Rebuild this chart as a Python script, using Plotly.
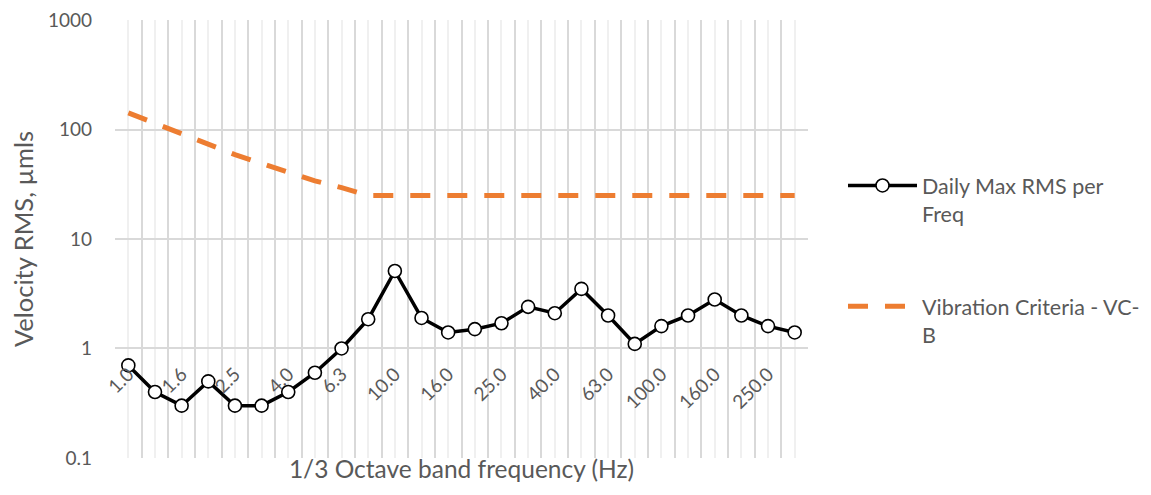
import plotly.graph_objects as go

# 1/3 octave band centre frequencies (Hz)
BANDS = [
    "1.0", "1.25", "1.6", "2.0", "2.5", "3.15", "4.0", "5.0", "6.3", "8.0",
    "10.0", "12.5", "16.0", "20.0", "25.0", "31.5", "40.0", "50.0", "63.0", "80.0",
    "100.0", "125.0", "160.0", "200.0", "250.0", "315.0",
]
# Daily max RMS velocity per band, um/s
DAILY_MAX_RMS = [
    0.7, 0.4, 0.3, 0.5, 0.3, 0.3, 0.4, 0.6, 1.0, 1.85,
    5.1, 1.9, 1.4, 1.5, 1.7, 2.4, 2.1, 3.5, 2.0, 1.1,
    1.6, 2.0, 2.8, 2.0, 1.6, 1.4,
]
# VC-B criterion curve, um/s
VC_B = [
    142, 114, 91, 72, 59, 49, 41, 34, 29.5, 25,
    25, 25, 25, 25, 25, 25, 25, 25, 25, 25,
    25, 25, 25, 25, 25, 25,
]
Y_TICKS = [0.1, 1, 10, 100, 1000]
Y_TICK_TEXT = ["0.1", "1", "10", "100", "1000"]

_FONT = "Lato"
_TEXT_COLOR = "#595959"
_GRID_MAJOR = "#D9D9D9"
_GRID_MINOR = "#F0F0F0"
_ORANGE = "#ED7D31"

tIdx = list(range(len(BANDS)))
tRange = [-0.5, len(BANDS) - 0.5]
tBoundaries = [tI - 0.5 for tI in range(len(BANDS) + 1)]
tLabelIdx = tIdx[::2]

fig = go.Figure()
fig.add_trace(
    go.Scatter(
        x=tIdx,
        y=DAILY_MAX_RMS,
        mode="lines+markers",
        name="Daily Max RMS per<br>Freq",
        legendgroup="a",
        line=dict(color="black", width=3.5),
        marker=dict(size=13, color="white", line=dict(color="black", width=1.6)),
    )
)
fig.add_trace(
    go.Scatter(
        x=tIdx,
        y=VC_B,
        xaxis="x2",
        mode="lines",
        name="Vibration Criteria - VC-<br>B",
        legendgroup="b",
        line=dict(color=_ORANGE, width=5, dash="20px,17px"),
    )
)

# page body adds an 8px margin, so the figure is sized 8px short of the window
fig.update_layout(
    width=1143,
    height=487,
    paper_bgcolor="white",
    plot_bgcolor="white",
    font=dict(family=_FONT, size=19, color=_TEXT_COLOR),
    margin=dict(l=107, r=343, t=12, b=37, autoexpand=False),
    xaxis=dict(
        range=tRange,
        tickmode="array",
        tickvals=tBoundaries,
        showticklabels=False,
        showgrid=True,
        gridcolor=_GRID_MAJOR,
        gridwidth=1.5,
        zeroline=False,
        minor=dict(tickmode="array", tickvals=tIdx, showgrid=True, gridcolor=_GRID_MINOR, gridwidth=1.5),
        title=dict(text="1/3 Octave band frequency (Hz)", font=dict(size=24.5), standoff=2),
        automargin=False,
    ),
    xaxis2=dict(
        range=tRange,
        overlaying="x",
        anchor="free",
        position=0.25,
        side="bottom",
        tickmode="array",
        tickvals=tLabelIdx,
        ticktext=[BANDS[tI] for tI in tLabelIdx],
        tickangle=-45,
        ticks="",
        ticklabelstandoff=10,
        showgrid=False,
        zeroline=False,
        showline=False,
    ),
    yaxis=dict(
        type="log",
        range=[-1.001, 3.001],
        tickmode="array",
        tickvals=Y_TICKS,
        ticktext=Y_TICK_TEXT,
        ticklabeloverflow="allow",
        showgrid=True,
        gridcolor=_GRID_MAJOR,
        gridwidth=1.5,
        zeroline=False,
        showline=False,
        ticklabelstandoff=22,
        title=dict(text="Velocity RMS, µmls", font=dict(size=25.5), standoff=9),
        automargin=False,
    ),
    legend=dict(
        x=1.0505,
        xanchor="left",
        y=0.669,
        yanchor="top",
        valign="top",
        itemwidth=69,
        tracegroupgap=62,
        font=dict(size=21.5, color=_TEXT_COLOR),
        bgcolor="rgba(0,0,0,0)",
    ),
    showlegend=True,
)

fig.write_html("out.html")
